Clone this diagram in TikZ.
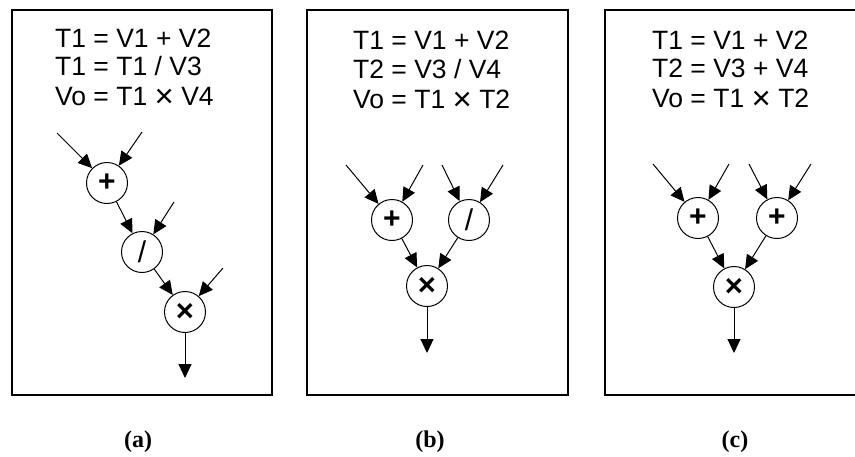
\documentclass[tikz,border=0pt]{standalone}
\usepackage{fontspec}
\setmainfont{Liberation Sans}
\newfontfamily\capfont{Liberation Serif}
\usetikzlibrary{arrows.meta}
\newcommand{\mulsign}{{\fontsize{31}{31}\selectfont\bfseries ×}}
\newcommand{\eqmul}{\raisebox{-2.5pt}{\fontsize{33}{33}\selectfont ×}}
\begin{document}
\begin{tikzpicture}[x=1pt,y=-1pt,
  panel/.style={draw,line width=1.2pt},
  eqn/.style={anchor=base west,inner sep=0pt,font=\fontsize{26.5}{30}\selectfont},
  op/.style={draw,circle,line width=1pt,minimum size=41pt,inner sep=0pt,font=\fontsize{30}{30}\selectfont\bfseries},
  flow/.style={line width=1pt,-{Triangle[length=14pt,width=13pt]}},
  capt/.style={font=\capfont\bfseries\fontsize{24}{28}\selectfont},
]
\clip (0,0) rectangle (855,456);
\fill[white] (0,0) rectangle (855,456);
% ---------- panel (a)
\draw[panel] (12,10) rectangle (272,395);
\node[eqn] (a1) at (55,47) {T1 = V1 + V2};
\node[eqn] (a2) at (55,75) {T1 = T1 / V3};
\node[eqn] (a3) at (55,105) {Vo = T1 \eqmul\ V4};
\node[op] (ap) at (107,183) {+};
\node[op] (ad) at (142,252) {\mdseries /};
\node[op] (am) at (185,312) {\mulsign};
\coordinate (ai1) at (57,133);
\coordinate (ai2) at (142,132);
\coordinate (ai3) at (174,202);
\coordinate (ai4) at (223,268);
\coordinate (ao) at (185,378);
\draw[flow] (ai1) -- (ap);
\draw[flow] (ai2) -- (ap);
\draw[flow] (ap) -- (ad);
\draw[flow] (ai3) -- (ad);
\draw[flow] (ad) -- (am);
\draw[flow] (ai4) -- (am);
\draw[flow] (am) -- (ao);
\node[capt] (ca) at (138,442) {(a)};
% ---------- panel (b)
\draw[panel] (307,10) rectangle (568,395);
\node[eqn] (b1) at (353,49) {T1 = V1 + V2};
\node[eqn] (b2) at (353,78) {T2 = V3 / V4};
\node[eqn] (b3) at (353,108) {Vo = T1 \eqmul\ T2};
\node[op] (bp) at (392,220) {+};
\node[op] (bd) at (469,220) {\mdseries /};
\node[op] (bm) at (427,286) {\mulsign};
\coordinate (bi1) at (346,165);
\coordinate (bi2) at (423,165);
\coordinate (bi3) at (442,165);
\coordinate (bi4) at (503,165);
\coordinate (bo) at (427,353);
\draw[flow] (bi1) -- (bp);
\draw[flow] (bi2) -- (bp);
\draw[flow] (bi3) -- (bd);
\draw[flow] (bi4) -- (bd);
\draw[flow] (bp) -- (bm);
\draw[flow] (bd) -- (bm);
\draw[flow] (bm) -- (bo);
\node[capt] (cb) at (430,442) {(b)};
% ---------- panel (c)
\draw[panel] (605,10) rectangle (870,395);
\node[eqn] (c1) at (652,49) {T1 = V1 + V2};
\node[eqn] (c2) at (652,77) {T2 = V3 + V4};
\node[eqn] (c3) at (652,107) {Vo = T1 \eqmul\ T2};
\node[op] (cp1) at (698,218) {+};
\node[op] (cp2) at (777,218) {+};
\node[op] (cm) at (734,287) {\mulsign};
\coordinate (ci1) at (653,164);
\coordinate (ci2) at (729,164);
\coordinate (ci3) at (749,164);
\coordinate (ci4) at (811,164);
\coordinate (co) at (734,353);
\draw[flow] (ci1) -- (cp1);
\draw[flow] (ci2) -- (cp1);
\draw[flow] (ci3) -- (cp2);
\draw[flow] (ci4) -- (cp2);
\draw[flow] (cp1) -- (cm);
\draw[flow] (cp2) -- (cm);
\draw[flow] (cm) -- (co);
\node[capt] (cc) at (735,442) {(c)};
\end{tikzpicture}
\end{document}
